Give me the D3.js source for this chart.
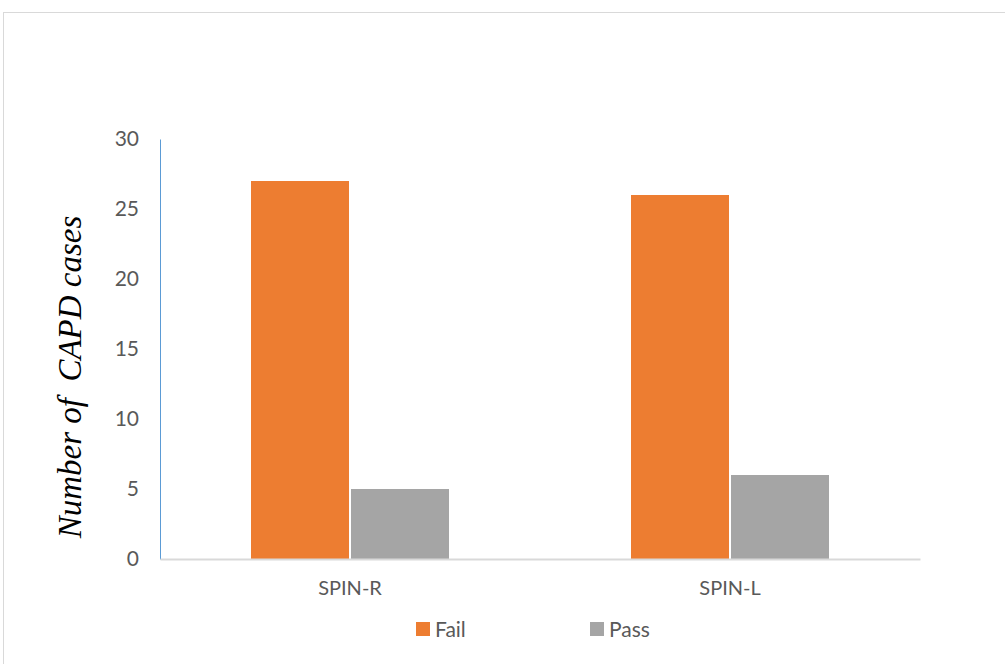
<!DOCTYPE html>
<html>
<head>
<meta charset="utf-8">
<script src="https://cdn.jsdelivr.net/npm/d3@7"></script>
<style>
  body { margin: 0; background: #fff; }
</style>
</head>
<body>
<div id="chart"></div>
<script>
const categories = ["SPIN-R", "SPIN-L"];
const seriesNames = ["Fail", "Pass"];
const failValues = [27, 26];
const passValues = [5, 6];
const yTicks = [0, 5, 10, 15, 20, 25, 30];
const colors = {Fail: "#ed7d31", Pass: "#a5a5a5"};

const W = 1005, H = 664;
const plot = {left: 160, right: 920, top: 139, bottom: 559};
const labelFont = "Lato, 'Open Sans', sans-serif";

const svg = d3.select("#chart").append("svg")
    .attr("width", W)
    .attr("height", H);

// chart frame (runs off the page on the right and bottom)
svg.append("rect")
    .attr("x", 3.5).attr("y", 12.5)
    .attr("width", W + 20).attr("height", H + 20)
    .attr("fill", "none")
    .attr("stroke", "#d9d9d9")
    .attr("stroke-width", 1);

const x0 = d3.scaleBand().domain(categories).range([plot.left, plot.right]).paddingInner(0).paddingOuter(0);
const x1 = d3.scaleBand().domain(seriesNames).range([0, 200]);
const y = d3.scaleLinear().domain([0, 30]).range([plot.bottom, plot.top]);

const rows = categories.map((c, i) => ({cat: c, Fail: failValues[i], Pass: passValues[i]}));

const groups = svg.selectAll("g.grp").data(rows).enter().append("g")
    .attr("transform", d => "translate(" + (x0(d.cat) + x0.bandwidth() / 2 - 100) + ",0)");

groups.selectAll("rect").data(d => seriesNames.map(s => ({s: s, v: d[s]}))).enter().append("rect")
    .attr("x", d => x1(d.s) + 1)
    .attr("width", x1.bandwidth() - 2)
    .attr("y", d => y(d.v))
    .attr("height", d => y(0) - y(d.v))
    .attr("fill", d => colors[d.s]);

// y axis
const yAxis = svg.append("g")
    .attr("transform", "translate(" + plot.left + ",0)")
    .call(d3.axisLeft(y).tickValues(yTicks).tickSize(0).tickPadding(21));
yAxis.select(".domain").attr("stroke", "#5b9bd5").attr("stroke-width", 1);
yAxis.selectAll("text")
    .style("font-family", labelFont)
    .style("font-size", "21px")
    .attr("fill", "#595959");

// x axis
const xAxis = svg.append("g")
    .attr("transform", "translate(0," + plot.bottom + ")")
    .call(d3.axisBottom(x0).tickSize(0).tickPadding(22));
xAxis.select(".domain").attr("stroke", "#d9d9d9").attr("stroke-width", 2);
xAxis.selectAll("text")
    .style("font-family", labelFont)
    .style("font-size", "20px")
    .attr("fill", "#595959");

// y axis title
svg.append("text")
    .attr("transform", "translate(81,377) rotate(-90)")
    .attr("text-anchor", "middle")
    .style("font-family", "'Liberation Serif', serif")
    .style("font-style", "italic")
    .style("font-size", "33px")
    .attr("fill", "#000")
    .attr("xml:space", "preserve")
    .text("Number of  CAPD cases");

// legend
const legend = svg.selectAll("g.leg").data(seriesNames).enter().append("g")
    .attr("transform", (d, i) => "translate(" + (416 + i * 174) + ",622)");
legend.append("rect")
    .attr("width", 14).attr("height", 14)
    .attr("fill", d => colors[d]);
legend.append("text")
    .attr("x", 19).attr("y", 7).attr("dy", "0.36em")
    .style("font-family", labelFont)
    .style("font-size", "21px")
    .attr("fill", "#595959")
    .text(d => d);
</script>
</body>
</html>
